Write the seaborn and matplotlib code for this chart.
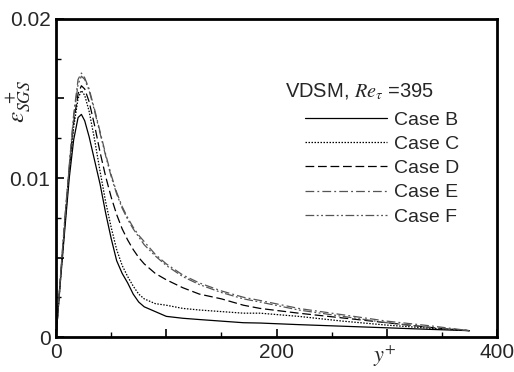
import numpy as np
import pandas as pd
import matplotlib
matplotlib.use("Agg")
import matplotlib.pyplot as plt
import seaborn as sns
from matplotlib.ticker import MultipleLocator, FuncFormatter

yplus = [0, 4, 8, 12, 16, 20, 23, 26, 30, 35, 40, 45, 50, 55, 60, 65, 70, 75, 80,
         90, 100, 115, 130, 150, 170, 185, 220, 260, 300, 340, 375]

case_b = [0, 0.0035, 0.0068, 0.0100, 0.0124, 0.0138, 0.0140, 0.0136, 0.0126, 0.0111,
          0.0096, 0.0078, 0.0062, 0.0048, 0.0040, 0.0034, 0.0027, 0.0022, 0.0019,
          0.0016, 0.0013, 0.00118, 0.0011, 0.0010, 0.0009, 0.00088, 0.00078,
          0.00068, 0.00058, 0.00048, 0.0004]
case_c = [0, 0.0036, 0.0071, 0.0104, 0.0132, 0.0150, 0.0155, 0.0152, 0.0142, 0.0124,
          0.0104, 0.0085, 0.0069, 0.0055, 0.0045, 0.0038, 0.0032, 0.0027, 0.0024,
          0.0021, 0.0020, 0.0018, 0.0017, 0.0016, 0.0015, 0.0015, 0.0013, 0.0010,
          0.00075, 0.00055, 0.0004]
case_d = [0, 0.0037, 0.0072, 0.0106, 0.0135, 0.0153, 0.0158, 0.0156, 0.0148, 0.0133,
          0.0116, 0.0101, 0.0088, 0.0077, 0.0068, 0.0061, 0.0055, 0.0050, 0.0046,
          0.0040, 0.0036, 0.0031, 0.0027, 0.0024, 0.0020, 0.0018, 0.0015, 0.0012,
          0.0009, 0.0006, 0.0004]
case_e = [0, 0.0038, 0.0075, 0.0108, 0.0140, 0.0162, 0.0166, 0.0163, 0.0156, 0.0143,
          0.0129, 0.0115, 0.0102, 0.0091, 0.0082, 0.0075, 0.0069, 0.0064, 0.0060,
          0.0052, 0.0046, 0.0039, 0.0034, 0.0029, 0.0025, 0.0023, 0.0018, 0.0014,
          0.0010, 0.0007, 0.0004]
case_f = [0, 0.0038, 0.0074, 0.0107, 0.0138, 0.0159, 0.0164, 0.0162, 0.0155, 0.0142,
          0.0128, 0.0114, 0.0101, 0.0090, 0.0081, 0.0074, 0.0068, 0.0063, 0.0058,
          0.0051, 0.0045, 0.0038, 0.0033, 0.0028, 0.0024, 0.0022, 0.0017, 0.0013,
          0.0009, 0.0006, 0.0004]

labels = ["Case B", "Case C", "Case D", "Case E", "Case F"]
series = [case_b, case_c, case_d, case_e, case_f]
legend_title = r"VDSM, $Re_{\tau}$ =395"

sns.set_style("white")
plt.rcParams['font.family'] = ['Liberation Sans', 'DejaVu Sans']
plt.rcParams['mathtext.fontset'] = 'stix'

styles = [
    dict(color="black", linestyle="-", linewidth=0.9),
    dict(color="black", linestyle=(0, (1.2, 1.2)), linewidth=0.9),
    dict(color="black", linestyle=(0, (7, 3)), linewidth=0.9),
    dict(color="#555555", linestyle=(0, (7, 2.5, 1.5, 2.5)), linewidth=0.9),
    dict(color="#555555", linestyle=(0, (7, 2, 1.5, 2, 1.5, 2)), linewidth=0.9),
]

fig = plt.figure(figsize=(5.14, 3.72), dpi=100)
ax = fig.add_axes([0.109, 0.094, 0.858, 0.855])

for lab, vals, st in zip(labels, series, styles):
    df = pd.DataFrame({"y+": yplus, "eps": vals})
    sns.lineplot(data=df, x="y+", y="eps", ax=ax, label=lab, **st)

ax.set_xlim(0, 400)
ax.set_ylim(0, 0.02)
ax.xaxis.set_major_locator(MultipleLocator(100))
ax.xaxis.set_minor_locator(MultipleLocator(50))
ax.yaxis.set_major_locator(MultipleLocator(0.005))
ax.yaxis.set_minor_locator(MultipleLocator(0.0025))

def xfmt(v, p):
    return f"{int(round(v))}" if int(round(v)) % 200 == 0 else ""

def yfmt(v, p):
    r = round(v, 4)
    if abs(r) < 1e-9:
        return "0"
    if abs(round(r / 0.01) - r / 0.01) < 1e-6:
        return f"{r:.2f}"
    return ""

ax.xaxis.set_major_formatter(FuncFormatter(xfmt))
ax.yaxis.set_major_formatter(FuncFormatter(yfmt))
ax.tick_params(which="both", direction="in", bottom=True, left=True,
               top=False, right=False, labelsize=15, pad=4, color="black")
ax.tick_params(which="major", length=6, width=1.2)
ax.tick_params(which="minor", length=3.5, width=1.0)
for s in ax.spines.values():
    s.set_linewidth(2.0)
    s.set_color("black")

ax.set_xlabel("")
ax.set_ylabel("")
ax.text(0.745, -0.062, r"$y^{+}$", transform=ax.transAxes, fontsize=16,
        ha="center", va="center")
ax.text(-0.085, 0.74, r"$\varepsilon_{SGS}^{\ +}$", transform=ax.transAxes,
        fontsize=18, ha="center", va="center", rotation=90)

ax.text(0.519, 0.772, legend_title, transform=ax.transAxes, fontsize=14.5,
        ha="left", va="center")
leg = ax.legend(loc="upper left", bbox_to_anchor=(0.565, 0.71), frameon=False,
                fontsize=14, handlelength=4.2, handletextpad=0.35,
                labelspacing=0.34, borderaxespad=0, borderpad=0)

fig.savefig("out.png", dpi=100)
